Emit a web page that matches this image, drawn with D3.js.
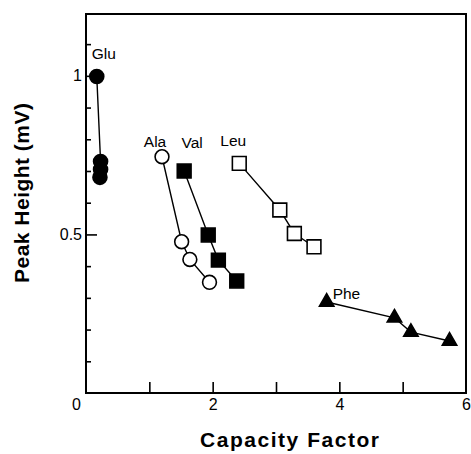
<!DOCTYPE html>
<html>
<head>
<meta charset="utf-8">
<script src="https://cdn.jsdelivr.net/npm/d3@7"></script>
<style>
body{margin:0;background:#fff;}
svg{display:block;}
</style>
</head>
<body>
<script>
// amino acid series: capacity factor (x) vs peak height in mV (y)
var gluX=[0.17,0.23,0.23,0.22];
var gluY=[0.998,0.73,0.705,0.68];
var alaX=[1.2,1.51,1.64,1.95];
var alaY=[0.745,0.477,0.421,0.349];
var valX=[1.55,1.93,2.09,2.38];
var valY=[0.70,0.498,0.419,0.353];
var leuX=[2.42,3.06,3.29,3.6];
var leuY=[0.724,0.577,0.503,0.461];
var pheX=[3.8,4.87,5.13,5.74];
var pheY=[0.287,0.237,0.192,0.164];
var names=["Glu","Ala","Val","Leu","Phe"];

var xTickLabels=[0,2,4,6];
var xTicks=[1,2,3,4,5];
var yTickLabels=[0.5,1];
var yMinorTicks=[0.1,0.2,0.3,0.4,0.6,0.7,0.8,0.9,1.1];

var width=471,height=454;
var frame={left:86,right:466,top:14,bottom:393};
var font="'Liberation Sans', Arial, Helvetica, sans-serif";

var xs=[gluX,alaX,valX,leuX,pheX];
var ys=[gluY,alaY,valY,leuY,pheY];
var series=names.map(function(n,i){
    return {name:n,pts:xs[i].map(function(x,j){return [x,ys[i][j]];})};
});

// marker style per series, label offset from the first point (pixels)
var style={
    Glu:{sym:d3.symbolCircle,size:154,fill:"#000",lx:-5,ly:-17,anchor:"start"},
    Ala:{sym:d3.symbolCircle,size:150,fill:"#fff",lx:-7,ly:-10,anchor:"middle"},
    Val:{sym:d3.symbolSquare,size:190,fill:"#000",lx:8,ly:-23,anchor:"middle"},
    Leu:{sym:d3.symbolSquare,size:190,fill:"#fff",lx:-6,ly:-17,anchor:"middle"},
    Phe:{sym:d3.symbolTriangle,size:90,fill:"#000",lx:6,ly:-3,anchor:"start"}
};

var x=d3.scaleLinear().domain([0,6]).range([frame.left,frame.right]);
var y=d3.scaleLinear().domain([0,1.195]).range([frame.bottom,frame.top]);

var svg=d3.select("body").append("svg").attr("width",width).attr("height",height);

// frame
svg.append("rect")
    .attr("x",frame.left).attr("y",frame.top)
    .attr("width",frame.right-frame.left).attr("height",frame.bottom-frame.top)
    .attr("fill","none").attr("stroke","#000").attr("stroke-width",2);

// y minor ticks
svg.append("g").attr("transform","translate("+frame.left+",0)")
    .call(d3.axisLeft(y).tickValues(yMinorTicks).tickSize(-5).tickFormat(""))
    .call(function(g){g.select(".domain").remove();});

// y major ticks + labels
var yAx=svg.append("g").attr("transform","translate("+frame.left+",0)")
    .call(d3.axisLeft(y).tickValues(yTickLabels).tickSize(-11).tickPadding(4)
        .tickFormat(function(d){return d===1?"1":d3.format(".1f")(d);}));
yAx.select(".domain").remove();

// x ticks
svg.append("g").attr("transform","translate(0,"+frame.bottom+")")
    .call(d3.axisBottom(x).tickValues(xTicks).tickSize(-11).tickFormat(""))
    .call(function(g){g.select(".domain").remove();});

// x labels
var xAx=svg.append("g").attr("transform","translate(0,"+frame.bottom+")")
    .call(d3.axisBottom(x).tickValues(xTickLabels).tickSize(0).tickPadding(6).tickFormat(d3.format("d")));
xAx.select(".domain").remove();
xAx.selectAll("text").filter(function(d){return d===0;}).attr("dx",-10);

svg.selectAll(".tick line").attr("stroke","#000").attr("stroke-width",1.6);
svg.selectAll(".tick text").attr("font-family",font).attr("font-size","16px").attr("fill","#000");

// lines
var line=d3.line().x(function(d){return x(d[0]);}).y(function(d){return y(d[1]);});
svg.selectAll(".series").data(series).enter().append("path")
    .attr("class","series")
    .attr("d",function(d){return line(d.pts);})
    .attr("fill","none").attr("stroke","#000").attr("stroke-width",1.4);

// markers
series.forEach(function(s){
    var st=style[s.name];
    svg.selectAll(".m-"+s.name).data(s.pts).enter().append("path")
        .attr("class","m-"+s.name)
        .attr("transform",function(d){return "translate("+x(d[0])+","+y(d[1])+")";})
        .attr("d",d3.symbol().type(st.sym).size(st.size))
        .attr("fill",st.fill).attr("stroke","#000").attr("stroke-width",1.6);
    svg.append("text")
        .attr("x",x(s.pts[0][0])+st.lx)
        .attr("y",y(s.pts[0][1])+st.ly)
        .attr("text-anchor",st.anchor)
        .attr("font-family",font).attr("font-size","15.5px")
        .text(s.name);
});

// axis titles
svg.append("text")
    .attr("x",289.5).attr("y",447)
    .attr("text-anchor","middle")
    .attr("font-family",font).attr("font-size","21px").attr("font-weight","bold")
    .attr("textLength",179).attr("lengthAdjust","spacing")
    .text("Capacity Factor");
svg.append("text")
    .attr("transform","translate(29,193) rotate(-90)")
    .attr("text-anchor","middle")
    .attr("font-family",font).attr("font-size","21px").attr("font-weight","bold")
    .attr("textLength",180).attr("lengthAdjust","spacing")
    .text("Peak Height (mV)");
</script>
</body>
</html>
